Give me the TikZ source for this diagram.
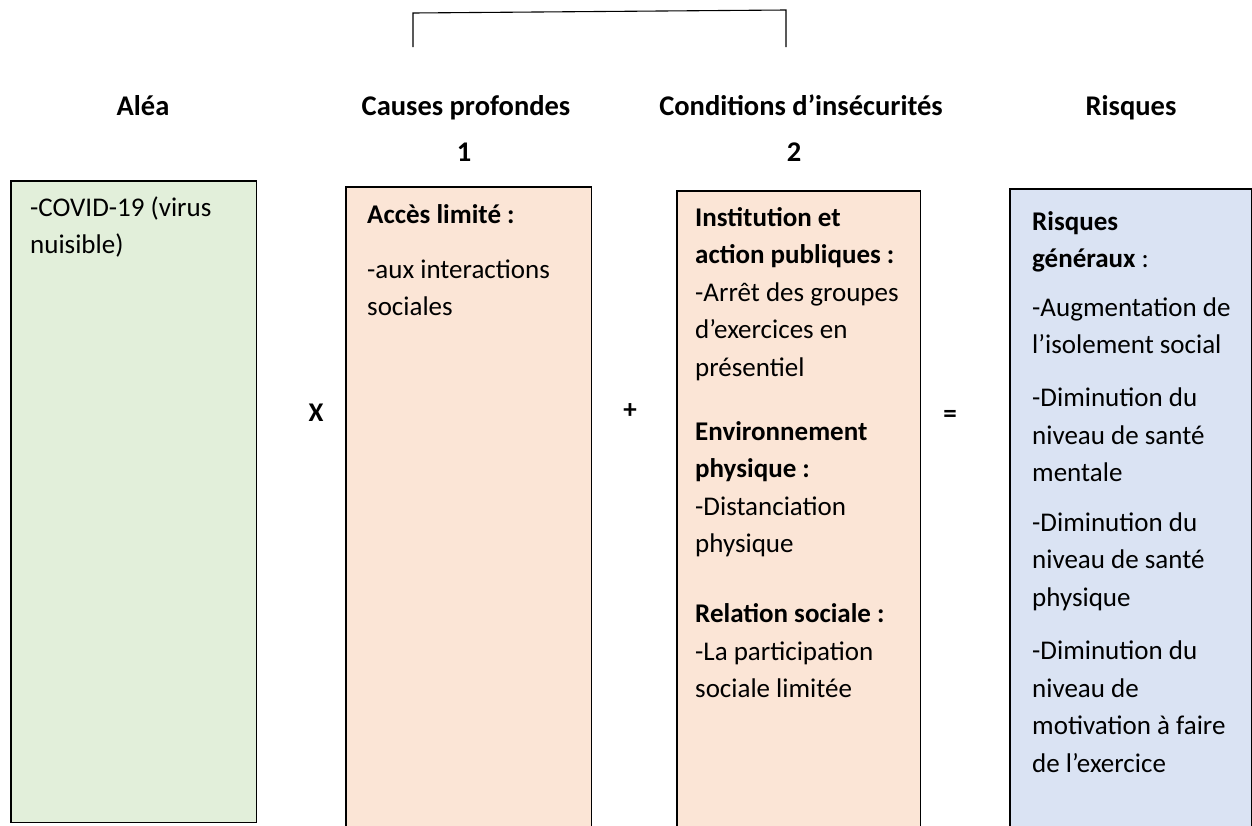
\documentclass[tikz,border=0pt]{standalone}
\usepackage{fontspec}
\setmainfont{Carlito}
\definecolor{boxgreen}{HTML}{E2EFDA}
\definecolor{boxorange}{HTML}{FBE5D6}
\definecolor{boxblue}{HTML}{DAE3F3}
\newcommand{\bodyfont}{\fontsize{27}{37.5}\selectfont\spaceskip=0.226em plus 0.05em\relax\xspaceskip=0pt\relax}
\tikzset{
  body/.style={font=\bodyfont, anchor=north west, inner sep=0pt, text width=225pt,
    execute at begin node={\spaceskip=0.226em plus 0.05em\relax\xspaceskip=0pt\relax}},
  head/.style={font=\fontsize{28.5}{32}\selectfont\bfseries, anchor=base, inner sep=0pt},
  op/.style={font=\fontsize{27}{32}\selectfont\bfseries, anchor=base, inner sep=0pt},
  panel/.style={rectangle, inner sep=0pt, anchor=north west},
  edge/.style={line width=1.2pt, black},
}
\begin{document}
\begin{tikzpicture}[x=1pt,y=-1pt]
\useasboundingbox (0,0) rectangle (1252,825);
% boxes
\node[panel, fill=boxgreen, minimum width=245pt, minimum height=641pt] (alea) at (11,181) {};
\draw[edge] (alea.south west) rectangle (alea.north east);
\node[panel, fill=boxorange, minimum width=245pt, minimum height=640pt] (causes) at (346,187) {};
\draw[edge] (causes.south west) -- (causes.north west) -- (causes.north east) -- (causes.south east);
\node[panel, fill=boxorange, minimum width=243pt, minimum height=636pt] (cond) at (677,191) {};
\draw[edge] (cond.south west) -- (cond.north west) -- (cond.north east) -- (cond.south east);
\node[panel, fill=boxblue, minimum width=241pt, minimum height=638pt] (risk) at (1010,189) {};
\draw[edge] (risk.south west) -- (risk.north west) -- (risk.north east) -- (risk.south east);
% bracket
\coordinate (bl) at (413,47);
\coordinate (tl) at (413,13);
\coordinate (tr) at (786,10);
\coordinate (br) at (786,47);
\draw[line width=1.1pt] (bl) -- (tl) -- (tr) -- (br);
% headers
\node[head] (halea) at (143,115) {Aléa};
\node[head] (hcauses) at (466,115) {Causes profondes};
\node[head] (hcond) at (801,115) {Conditions d’insécurités};
\node[head] (hrisk) at (1131,115) {Risques};
\node[head] (n1) at (464,161) {1};
\node[head] (n2) at (794,161) {2};
% operators
\node[op] (times) at (316,421) {X};
\node[op] (plus) at (630,418) {+};
\node[op] (equal) at (950,422) {=};
% texts
\node[body] (talea) at (30,190) {\strut -COVID-19 (virus\\nuisible)};
\node[body] (tcauses) at (367,197) {\strut\textbf{Accès limité :}\\[17.5pt]-aux interactions\\sociales};
\node[body] (tcond) at (695,200) {\strut\textbf{Institution et}\\\textbf{action publiques :}\\-Arrêt des groupes\\d’exercices en\\présentiel\\[26.5pt]\textbf{Environnement}\\\textbf{physique :}\\-Distanciation\\physique\\[32.5pt]\textbf{Relation sociale :}\\-La participation\\sociale limitée};
\node[body] (trisk) at (1032,204) {\strut\textbf{Risques}\\\textbf{généraux} :\\[11pt]-Augmentation de\\l’isolement social\\[15.5pt]-Diminution du\\niveau de santé\\mentale\\[12pt]-Diminution du\\niveau de santé\\physique\\[16pt]-Diminution du\\niveau de\\motivation à faire\\de l’exercice};
\end{tikzpicture}
\end{document}
